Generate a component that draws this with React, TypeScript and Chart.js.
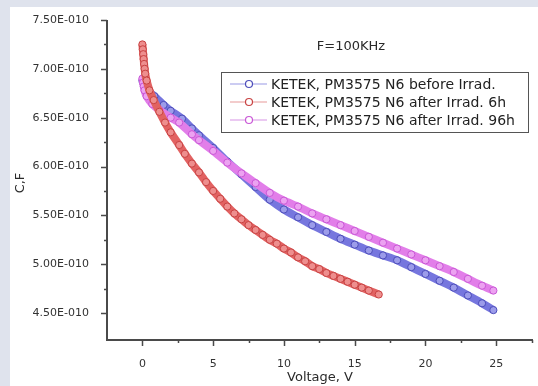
import { useEffect, useRef } from "react";
import { Chart, registerables } from "chart.js";

Chart.register(...registerables);

// ---- data (capacitance in farads, voltage in volts) ----
const voltBefore = [0, 0.1, 0.3, 0.5, 0.85, 1.5, 2, 2.8, 3.5, 4, 5, 6, 7, 8, 9, 10, 11, 12, 13, 14, 15, 16, 17, 18, 19, 20, 21, 22, 23, 24, 24.8];
const capBefore = [6.88, 6.84, 6.8, 6.76, 6.72, 6.63, 6.57, 6.49, 6.39, 6.32, 6.19, 6.05, 5.92, 5.79, 5.66, 5.56, 5.48, 5.4, 5.33, 5.26, 5.2, 5.14, 5.09, 5.04, 4.97, 4.9, 4.83, 4.76, 4.68, 4.6, 4.53].map((c) => c * 1e-10);

const volt6h = [0, 0.03, 0.06, 0.09, 0.12, 0.16, 0.2, 0.3, 0.5, 0.8, 1.2, 1.6, 2, 2.6, 3, 3.5, 4, 4.5, 5, 5.5, 6, 6.5, 7, 7.5, 8, 8.5, 9, 9.5, 10, 10.5, 11, 11.5, 12, 12.5, 13, 13.5, 14, 14.5, 15, 15.5, 16, 16.7];
const cap6h = [7.25, 7.2, 7.15, 7.1, 7.05, 7.0, 6.95, 6.88, 6.78, 6.68, 6.56, 6.45, 6.35, 6.22, 6.13, 6.03, 5.94, 5.84, 5.75, 5.67, 5.59, 5.52, 5.46, 5.4, 5.35, 5.3, 5.25, 5.21, 5.16, 5.12, 5.07, 5.03, 4.98, 4.95, 4.91, 4.88, 4.85, 4.82, 4.79, 4.76, 4.73, 4.69].map((c) => c * 1e-10);

const volt96h = [0, 0.05, 0.1, 0.15, 0.3, 0.7, 1.2, 2, 2.6, 3.5, 4, 5, 6, 7, 8, 9, 10, 11, 12, 13, 14, 15, 16, 17, 18, 19, 20, 21, 22, 23, 24, 24.8];
const cap96h = [6.9, 6.86, 6.82, 6.78, 6.72, 6.64, 6.58, 6.5, 6.45, 6.33, 6.27, 6.16, 6.04, 5.93, 5.83, 5.73, 5.65, 5.59, 5.52, 5.46, 5.4, 5.34, 5.28, 5.22, 5.16, 5.1, 5.04, 4.98, 4.92, 4.85, 4.78, 4.73].map((c) => c * 1e-10);

const seriesLabels = [
  "KETEK, PM3575 N6 before Irrad.",
  "KETEK, PM3575 N6 after Irrad. 6h",
  "KETEK, PM3575 N6 after Irrad. 96h",
];

const xTickValues = [0, 5, 10, 15, 20, 25];
const xTickLabels = ["0", "5", "10", "15", "20", "25"];
const xMinorTicks = [2.5, 7.5, 12.5, 17.5, 22.5, 27.5];
const yTickValues = [4.5e-10, 5.0e-10, 5.5e-10, 6.0e-10, 6.5e-10, 7.0e-10, 7.5e-10];
const yTickLabels = ["4.50E-010", "5.00E-010", "5.50E-010", "6.00E-010", "6.50E-010", "7.00E-010", "7.50E-010"];
const yMinorTicks = [4.75e-10, 5.25e-10, 5.75e-10, 6.25e-10, 6.75e-10, 7.25e-10];

const titleText = "F=100KHz";
const xTitle = "Voltage, V";
const yTitle = "C,F";

const FONT = "'DejaVu Sans', sans-serif";

const bandColors = ["#7676de", "#e26262", "#e27ee9"];
const fillColors = ["#9c9cea", "#ee8e8e", "#eca2f1"];
const edgeColors = ["#4c4cba", "#c84242", "#c957d6"];
const legendLineColors = ["#9a9ae6", "#e89a9a", "#d894e6"];

const decorPlugin = {
  id: "decor",
  beforeDraw(chart: any) {
    const { ctx, width, height } = chart;
    ctx.save();
    ctx.fillStyle = "#dfe3ed";
    ctx.fillRect(0, 0, width, height);
    ctx.fillStyle = "#ffffff";
    ctx.fillRect(10, 7, width - 10, height - 7);
    ctx.restore();
  },
  afterDraw(chart: any) {
    const { ctx, chartArea } = chart;
    const xs = chart.scales.x;
    const ys = chart.scales.y;
    ctx.save();
    // axes
    ctx.strokeStyle = "#4a4a4a";
    ctx.lineWidth = 2;
    ctx.beginPath();
    ctx.moveTo(chartArea.left, ys.getPixelForValue(7.5e-10));
    ctx.lineTo(chartArea.left, chartArea.bottom);
    ctx.lineTo(chartArea.right, chartArea.bottom);
    ctx.stroke();
    ctx.lineWidth = 1.5;
    ctx.beginPath();
    yTickValues.forEach((v) => {
      const p = Math.round(ys.getPixelForValue(v)) + 0.5;
      ctx.moveTo(chartArea.left - 6, p);
      ctx.lineTo(chartArea.left, p);
    });
    yMinorTicks.forEach((v) => {
      const p = Math.round(ys.getPixelForValue(v)) + 0.5;
      ctx.moveTo(chartArea.left - 3, p);
      ctx.lineTo(chartArea.left, p);
    });
    xTickValues.forEach((v) => {
      const p = Math.round(xs.getPixelForValue(v)) + 0.5;
      ctx.moveTo(p, chartArea.bottom);
      ctx.lineTo(p, chartArea.bottom + 6);
    });
    xMinorTicks.forEach((v) => {
      const p = Math.round(xs.getPixelForValue(v)) + 0.5;
      ctx.moveTo(p, chartArea.bottom);
      ctx.lineTo(p, chartArea.bottom + 3);
    });
    ctx.stroke();

    // texts
    ctx.fillStyle = "#2a2a2a";
    ctx.textAlign = "center";
    ctx.textBaseline = "middle";
    ctx.font = `13px ${FONT}`;
    ctx.fillText(titleText, 351, 47);
    ctx.fillText(xTitle, (chartArea.left + chartArea.right) / 2, 378);
    ctx.save();
    ctx.translate(21, 183);
    ctx.rotate(-Math.PI / 2);
    ctx.fillText(yTitle, 0, 0);
    ctx.restore();

    // legend
    const bx = 221, by = 72, bw = 307, bh = 60;
    ctx.fillStyle = "#ffffff";
    ctx.fillRect(bx, by, bw, bh);
    ctx.strokeStyle = "#555555";
    ctx.lineWidth = 1;
    ctx.strokeRect(bx + 0.5, by + 0.5, bw, bh);
    ctx.font = `14px ${FONT}`;
    ctx.textAlign = "left";
    seriesLabels.forEach((lab, i) => {
      const ry = 84 + i * 18;
      ctx.strokeStyle = legendLineColors[i];
      ctx.lineWidth = 1.2;
      ctx.beginPath();
      ctx.moveTo(230, ry);
      ctx.lineTo(267, ry);
      ctx.stroke();
      ctx.beginPath();
      ctx.arc(249, ry, 3.5, 0, Math.PI * 2);
      ctx.fillStyle = "#ffffff";
      ctx.fill();
      ctx.strokeStyle = edgeColors[i];
      ctx.lineWidth = 1.2;
      ctx.stroke();
      ctx.fillStyle = "#222222";
      ctx.fillText(lab, 271, ry + 1);
    });
    ctx.restore();
  },
};

function toPoints(xs: number[], ys: number[]) {
  return xs.map((x, i) => ({ x, y: ys[i] }));
}

export default function App() {
  const ref = useRef<HTMLCanvasElement | null>(null);
  useEffect(() => {
    if (!ref.current) return;
    const mk = (i: number, xs: number[], ys: number[], order: number) => ({
      label: seriesLabels[i],
      data: toPoints(xs, ys),
      showLine: true,
      borderColor: bandColors[i],
      borderWidth: 8,
      pointRadius: 3.6,
      pointBorderWidth: 1,
      pointBorderColor: edgeColors[i],
      pointBackgroundColor: fillColors[i],
      tension: 0.2,
      order,
    });
    const chart = new Chart(ref.current, {
      type: "scatter",
      data: {
        datasets: [
          mk(0, voltBefore, capBefore, 3),
          mk(2, volt96h, cap96h, 2),
          mk(1, volt6h, cap6h, 1),
        ] as any,
      },
      options: {
        animation: false,
        responsive: false,
        devicePixelRatio: 1,
        layout: { padding: { top: 20, left: 0, right: 0, bottom: 0 } },
        plugins: { legend: { display: false }, tooltip: { enabled: false } },
        scales: {
          x: {
            type: "linear",
            min: -2.5,
            max: 27.6,
            grid: { display: false },
            border: { display: false },
            afterBuildTicks: (s: any) => {
              s.ticks = xTickValues.map((v) => ({ value: v }));
            },
            afterFit: (s: any) => {
              s.height = 46;
            },
            ticks: {
              padding: 10,
              color: "#333333",
              font: { family: FONT, size: 11 },
              callback: (v: any) => xTickLabels[xTickValues.indexOf(Number(v))] ?? "",
            },
          },
          y: {
            type: "linear",
            min: 4.224e-10,
            max: 7.5e-10,
            grid: { display: false },
            border: { display: false },
            afterBuildTicks: (s: any) => {
              s.ticks = yTickValues.map((v) => ({ value: v }));
            },
            afterFit: (s: any) => {
              s.width = 107;
            },
            ticks: {
              padding: 10,
              color: "#333333",
              font: { family: FONT, size: 11 },
              callback: (v: any) => {
                const idx = yTickValues.findIndex((t) => Math.abs(t - Number(v)) < 1e-13);
                return idx >= 0 ? yTickLabels[idx] : "";
              },
            },
          },
        },
      } as any,
      plugins: [decorPlugin],
    });
    return () => chart.destroy();
  }, []);
  return (
    <div style={{ position: "fixed", left: 0, top: 0, width: 538, height: 386 }}>
      <canvas ref={ref} width={538} height={386} style={{ display: "block" }} />
    </div>
  );
}
